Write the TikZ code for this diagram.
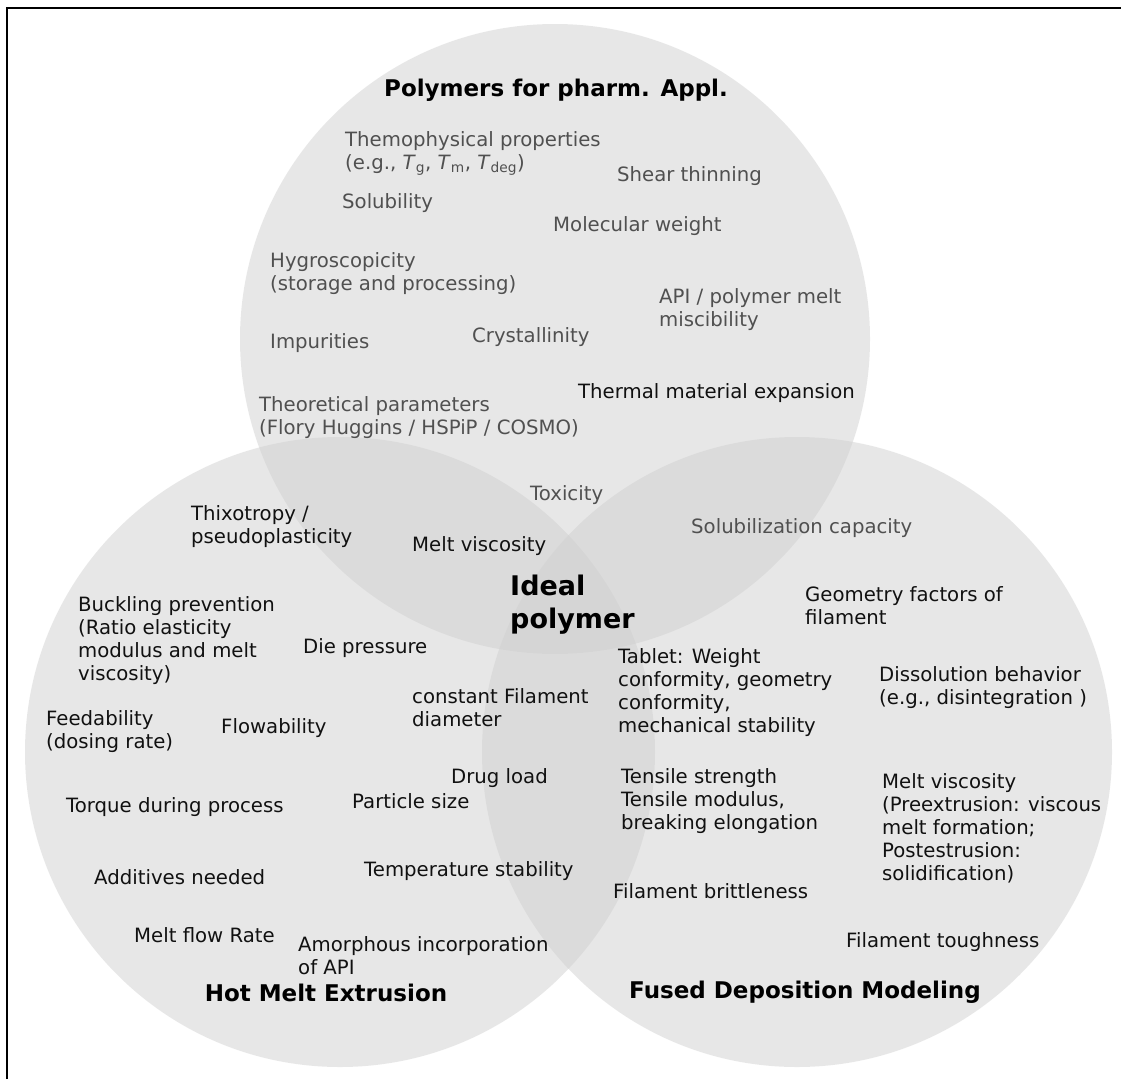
\documentclass[tikz,border=0pt]{standalone}
\usepackage{fontspec}
\setmainfont{DejaVu Sans}
\definecolor{circfill}{HTML}{D1D1D1}
\definecolor{txtgrey}{HTML}{505050}
\definecolor{txtdark}{HTML}{111111}
\begin{document}
\begin{tikzpicture}[x=1pt,y=-1pt,
  venn/.style={circle, inner sep=0pt, minimum size=630pt, fill=circfill, fill opacity=0.5, draw=none},
  item/.style={anchor=north west, inner sep=0pt, align=left, text=txtdark, font=\fontsize{19.7}{23}\selectfont},
  greyitem/.style={item, text=txtgrey},
  title/.style={anchor=center, inner sep=0pt, text=black, font=\bfseries\fontsize{23}{27}\selectfont},
  centertitle/.style={anchor=north west, inner sep=0pt, align=left, text=black, font=\bfseries\fontsize{27}{33}\selectfont}
]
\useasboundingbox (0,0) rectangle (1121,1079);
\fill[white] (0,0) rectangle (1121,1079);
\draw[line width=1.5pt] (7,1079) -- (7,8) -- (1121,8);

\node[venn] (ctop) at (555,339) {};
\node[venn] (cleft) at (340,752) {};
\node[venn] (cright) at (797,752) {};

% titles
\node[title] (tpoly) at (556,90) {Polymers for pharm. Appl.};
\node[title] (thme) at (326,993) {Hot Melt Extrusion};
\node[title] (tfdm) at (805,992) {Fused Deposition Modeling};
\node[centertitle] (ideal) at (510,575) {Ideal\\polymer};

% top circle
\node[greyitem] (thermo) at (345,131) {Themophysical properties\\(e.g., \textit{T}\textsubscript{g}, \textit{T}\textsubscript{m}, \textit{T}\textsubscript{deg})};
\node[greyitem] (shear) at (617,166) {Shear thinning};
\node[greyitem] (solub) at (342,193) {Solubility};
\node[greyitem] (molw) at (553,216) {Molecular weight};
\node[greyitem] (hygro) at (270,252) {Hygroscopicity\\(storage and processing)};
\node[greyitem] (api) at (659,288) {API / polymer melt\\miscibility};
\node[greyitem] (impur) at (270,333) {Impurities};
\node[greyitem] (cryst) at (472,327) {Crystallinity};
\node[item] (thexp) at (578,383) {Thermal material expansion};
\node[greyitem] (theo) at (259,396) {Theoretical parameters\\(Flory Huggins / HSPiP / COSMO)};
\node[greyitem] (toxic) at (530,485) {Toxicity};
\node[greyitem] (solcap) at (691,518) {Solubilization capacity};
\node[item] (meltv1) at (412,536) {Melt viscosity};
\node[item] (thixo) at (191,505) {Thixotropy /\\pseudoplasticity};

% left circle
\node[item] (buck) at (78,596) {Buckling prevention\\(Ratio elasticity\\modulus and melt\\viscosity)};
\node[item] (die) at (303,638) {Die pressure};
\node[item] (constf) at (412,688) {constant Filament\\diameter};
\node[item] (feed) at (46,710) {Feedability\\(dosing rate)};
\node[item] (flow) at (221,718) {Flowability};
\node[item] (drug) at (451,768) {Drug load};
\node[item] (torque) at (66,797) {Torque during process};
\node[item] (part) at (352,793) {Particle size};
\node[item] (temp) at (364,861) {Temperature stability};
\node[item] (addit) at (94,869) {Additives needed};
\node[item] (mfr) at (134,927) {Melt flow Rate};
\node[item] (amorph) at (298,936) {Amorphous incorporation\\of API};

% right circle
\node[item] (geom) at (805,586) {Geometry factors of\\filament};
\node[item] (tablet) at (618,648) {Tablet: Weight\\conformity, geometry\\conformity,\\mechanical stability};
\node[item] (dissol) at (879,666) {Dissolution behavior\\(e.g., disintegration )};
\node[item] (tensile) at (621,768) {Tensile strength\\Tensile modulus,\\breaking elongation};
\node[item] (meltv2) at (882,773) {Melt viscosity\\(Preextrusion: viscous\\melt formation;\\Postestrusion:\\solidification)};
\node[item] (brittle) at (613,883) {Filament brittleness};
\node[item] (tough) at (846,932) {Filament toughness};
\end{tikzpicture}
\end{document}
